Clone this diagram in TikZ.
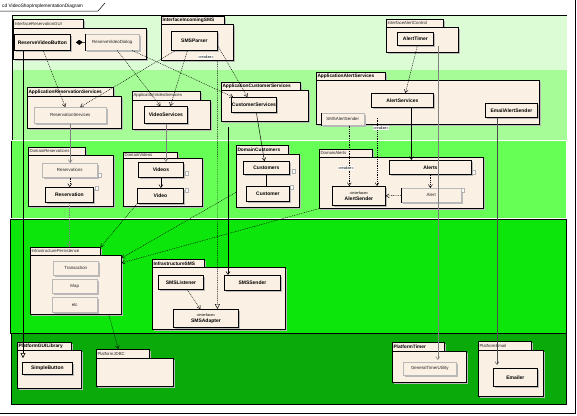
\documentclass[tikz,border=0pt]{standalone}
\usepackage{fontspec}
\setmainfont{Liberation Sans}
\usetikzlibrary{arrows.meta,shadows,calc}
\definecolor{bandA}{RGB}{220,252,214}
\definecolor{bandB}{RGB}{166,252,150}
\definecolor{bandC}{RGB}{102,255,85}
\definecolor{bandD}{RGB}{13,230,10}
\definecolor{bandE}{RGB}{10,170,10}
\definecolor{pkgfill}{RGB}{250,240,228}
\definecolor{shadowgray}{RGB}{185,185,185}
\newcommand{\tabbold}{\fontsize{4.8}{5.5}\selectfont\bfseries}
\newcommand{\tablight}{\fontsize{4.3}{5}\selectfont\color{black!85}}
\newcommand{\umlpkg}[9]{%
 \node[pkgpart, minimum width={(#4-#2)*1pt}, minimum height={(#5-#3)*1pt}, anchor=north west,
   label={[anchor=west, inner sep=1.3pt, font=#9]west:#8}] (#1tab) at (#2,#3) {};
 \node[pkgpart, minimum width={(#6-#2)*1pt}, minimum height={(#7-#5)*1pt}, anchor=north west] (#1) at (#2,#5) {};
}
\newcommand{\clsbox}[7]{\node[#1, minimum width={(#5-#3)*1pt}, minimum height={(#6-#4)*1pt}, anchor=north west] (#2) at (#3,#4) {#7};}
\newcommand{\mk}[5]{\node[draw=gray!60, fill=white, line width=0.3pt, inner sep=0pt, minimum width={(#4-#2)*1pt}, minimum height={(#5-#3)*1pt}, anchor=north west] (#1) at (#2,#3) {};}
\begin{document}
\begin{tikzpicture}[x=1pt,y=-1pt,
  shd/.style={drop shadow={shadow xshift=2pt,shadow yshift=-2pt,opacity=1,fill=shadowgray}},
  pkgpart/.style={shd, draw=black, line width=0.6pt, fill=pkgfill, inner sep=0pt},
  cls/.style={shd, draw=black, line width=0.8pt, fill=pkgfill, inner sep=0pt, align=center, font=\fontsize{5}{5.6}\selectfont\bfseries},
  tcls/.style={shd, draw=gray!55, line width=0.5pt, fill=pkgfill, inner sep=0pt, align=center, font=\fontsize{4.4}{5}\selectfont\color{black!85}},
  tip/.style={-{Straight Barb[length=3pt,width=4pt]}},
  dep/.style={tip, line width=0.45pt, dash pattern=on 0.9pt off 0.9pt},
  gdep/.style={dep, draw=gray},
  sol/.style={tip, line width=0.45pt},
  gsol/.style={sol, draw=gray},
  real/.style={line width=0.45pt, dash pattern=on 0.9pt off 0.9pt, -{Triangle[open,length=5pt,width=5pt]}},
  gen/.style={line width=0.6pt, -{Triangle[open,length=5pt,width=5pt]}},
  rlab/.style={fill=white, inner sep=0.6pt, font=\fontsize{3.8}{4.3}\selectfont}]
\useasboundingbox (0,0) rectangle (577,415);
% bands
\fill[bandA] (12,15) rectangle (567,70);
\fill[bandB] (12,70) rectangle (567,140);
\fill[bandC] (11,141) rectangle (566,218);
\fill[bandD] (10,219) rectangle (566,333);
\fill[bandE] (11,333) rectangle (566,404);
\draw[white, line width=0.8pt] (11,140.5) -- (566,140.5) (10,218.5) -- (566,218.5);
\draw[line width=0.6pt] (12,15) -- (567,15);
\draw[line width=0.6pt] (12,15) -- (12,140) (11,141) -- (11,218);
\draw[line width=0.6pt] (10,219) rectangle (566,333);
\draw[line width=0.6pt] (11,333) rectangle (566,404);
% frame
\node[anchor=west, inner sep=0pt, font=\fontsize{4.8}{5.5}\selectfont] (title) at (2,6) {cd VideoShopImplementationDiagram};
\draw[line width=0.5pt] (0,11) -- (98,11) -- (105,3);
\draw[line width=0.8pt] (575,0) -- (575,413) -- (0,413);
% packages
\umlpkg{ResGUI}{13}{19}{83}{28}{146}{59}{InterfaceReservationGUI}{\tablight}
\umlpkg{IncomingSMS}{161}{16}{224}{24}{233}{60}{InterfaceIncomingSMS}{\tabbold}
\umlpkg{AlertControl}{386}{19}{443}{27}{458}{52}{InterfaceAlertControl}{\tablight}
\umlpkg{AppRes}{27}{87}{113}{96}{121}{128}{ApplicationReservationServices}{\tabbold}
\umlpkg{AppVideo}{132}{91}{200}{100}{210}{129}{ApplicationVideoServices}{\tablight}
\umlpkg{AppCust}{221}{82}{300}{90}{308}{121}{ApplicationCustomerServices}{\tabbold}
\umlpkg{AppAlert}{316}{72}{385}{80}{539}{124}{ApplicationAlertServices}{\tabbold}
\umlpkg{DomRes}{28}{147}{85}{155}{113}{206}{DomainReservations}{\tablight}
\umlpkg{DomVideos}{123}{152}{177}{158}{202}{206}{DomainVideos}{\tablight}
\umlpkg{DomainCustomers}{236}{145}{288}{154}{299}{207}{DomainCustomers}{\tabbold}
\umlpkg{DomainAlerts}{319}{149}{372}{157}{483}{208}{DomainAlerts}{\tablight}
\umlpkg{InfraPersistence}{30}{247}{100}{255}{121}{314}{InfrastructurePersistence}{\tablight}
\umlpkg{InfraSMS}{152}{259}{204}{267}{285}{329}{InfrastructureSMS}{\tabbold}
\umlpkg{GUILib}{17}{342}{71}{350}{81}{388}{PlatformGUILibrary}{\tabbold}
\umlpkg{PlatformJDBC}{96}{349}{149}{358}{173}{386}{PlatformJDBC}{\tablight}
\umlpkg{PlatformTimer}{392}{342}{444}{351}{466}{382}{PlatformTimer}{\tabbold}
\umlpkg{PlatformEmail}{478}{341}{531}{350}{543}{396}{PlatformEmail}{\tablight}
% classes
\clsbox{cls}{RVB}{14}{34}{70}{50}{ReserveVideoButton}
\clsbox{tcls}{Dialog}{85}{34}{139}{50}{ReserveVideoDialog}
\clsbox{cls}{SMSParser}{171}{31}{217}{50}{SMSParser}
\clsbox{cls}{AlertTimer}{397}{32}{433}{45}{AlertTimer}
\clsbox{tcls}{ResServices}{34}{107}{106}{123}{ReservationServices}
\clsbox{cls}{VideoServices}{144}{106}{187}{123}{VideoServices}
\clsbox{cls}{CustomerServices}{231}{97}{276}{112}{CustomerServices}
\clsbox{cls}{AlertServices}{371}{93}{433}{107}{AlertServices}
\clsbox{cls}{EmailAlertSender}{485}{103}{537}{117}{EmailAlertSender}
\clsbox{tcls}{SMSAlertSender}{321}{113}{364}{125}{SMSAlertSender}
\clsbox{tcls}{Reservations}{42}{163}{97}{177}{Reservations}
\clsbox{cls}{Reservation}{45}{187}{93}{202}{Reservation}
\clsbox{cls}{Videos}{138}{162}{183}{177}{Videos}
\clsbox{cls}{Video}{137}{188}{183}{203}{Video}
\clsbox{cls}{Customers}{243}{161}{289}{174}{Customers}
\clsbox{cls}{Customer}{246}{186}{289}{201}{Customer}
\clsbox{cls}{AlertSender}{332}{186}{385}{205}{{\fontsize{3.8}{4.3}\selectfont\mdseries «interface»}\\AlertSender}
\clsbox{cls}{Alerts}{389}{160}{471}{174}{Alerts}
\clsbox{tcls}{Alert}{401}{188}{461}{202}{Alert}
\clsbox{tcls}{Transaction}{53}{261}{98}{275}{Transaction}
\clsbox{tcls}{Map}{52}{279}{97}{293}{Map}
\clsbox{tcls}{Etc}{52}{297}{97}{312}{etc}
\clsbox{cls}{SMSListener}{158}{275}{203}{289}{SMSListener}
\clsbox{cls}{SMSSender}{224}{275}{280}{290}{SMSSender}
\clsbox{cls}{SMSAdapter}{173}{309}{238}{327}{{\fontsize{3.8}{4.3}\selectfont\mdseries «interface»}\\SMSAdapter}
\clsbox{cls}{SimpleButton}{22}{362}{72}{374}{SimpleButton}
\clsbox{tcls}{GTU}{403}{362}{456}{375}{GeneralTimerUtility}
\clsbox{cls}{Emailer}{493}{368}{537}{386}{Emailer}
\draw[line width=0.8pt] (Dialog.north west) -- (Dialog.south west);
\draw[line width=0.8pt] (SMSAlertSender.north west) -- (SMSAlertSender.south west);
\draw[line width=0.8pt] (Alert.north west) -- (Alert.south west);
% markers
\mk{m1}{98}{173}{101}{177}
\mk{m2}{95}{186}{98}{190}
\mk{m3}{185}{171}{188}{175}
\mk{m4}{185}{188}{188}{192}
\mk{m5}{292}{169}{295}{173}
\mk{m6}{290}{185}{293}{189}
\mk{m7}{472}{170}{475}{174}
\mk{m8}{461}{188}{464}{192}
% connectors
\draw[gen, shorten >=4pt] ([xshift=9pt]RVB.south west) -- ([xshift=1pt]SimpleButton.north west);
\draw[{Diamond[length=7pt,width=5pt]}-, line width=0.5pt] ([xshift=5pt]RVB.east) -- (Dialog.west);
\draw[dep] ([xshift=1pt]RVB.south) -- ([xshift=-5pt]ResServices.north);
\draw[dep] ([xshift=5pt]Dialog.south) -- ([xshift=-5.5pt]VideoServices.north);
\draw[dep] ([xshift=20pt]Dialog.south) -- ([xshift=2pt]CustomerServices.north west);
\draw[dep] ([xshift=4pt]SMSParser.south west) -- ([xshift=10pt]ResServices.north);
\draw[dep] ([xshift=-7pt]SMSParser.south) -- ([xshift=4.5pt]VideoServices.north);
\draw[dep] ([yshift=5pt]SMSParser.south east) -- ([xshift=-6.5pt]CustomerServices.north);
\draw[real] ([xshift=-16pt]IncomingSMS.south east) -- ([xshift=11.5pt]SMSAdapter.north);
\draw[dep] ([xshift=2pt]AlertTimer.south) -- ([xshift=3pt]AlertServices.north);
\draw[gsol] (ResServices.south) -- (ResServices.south |- Reservations.north);
\draw[dep] (Reservations.south) -- (Reservations.south |- Reservation.north);
\draw[gdep] (Reservation.south) -- (Reservation.south |- InfraPersistencetab.north);
\draw[gsol] (VideoServices.south) -- (VideoServices.south |- Videos.north);
\draw[sol] (Videos.south) -- (Videos.south |- Video.north);
\draw[dep] (Video.south west) -- (InfraPersistencetab.north east);
\draw[dep] ([yshift=-11.5pt]DomainCustomers.west) -- ([yshift=-3pt]InfraPersistence.north east);
\draw[dep] (DomainAlerts.south west) -- ([yshift=-8pt]InfraPersistence.north east);
\draw[sol] ([xshift=2.5pt]CustomerServices.south) -- ([xshift=-2pt]Customers.north);
\draw[line width=0.45pt] (Customers.south) -- (Customers.south |- Customer.north);
\draw[sol] ([xshift=9pt]AlertServices.south) -- ([xshift=9pt]AlertServices.south |- Alerts.north);
\draw[dep] ([xshift=6.5pt]SMSAlertSender.south) -- ([xshift=6.5pt]SMSAlertSender.south |- AlertSender.north);
\draw[dep, shorten <=10pt] ([xshift=6pt]AlertServices.south west) -- ([xshift=6pt]AlertServices.south west |- AlertSender.north);
\draw[dep] (Alerts.south) -- (Alerts.south |- Alert.north);
\draw[dep] (Alert.west) -- (AlertSender.east);
\draw[dep] ([xshift=6.5pt]SMSListener.south) -- ([xshift=-5.5pt]SMSAdapter.north);
\coordinate (smsfree) at (228,127);
\draw[sol, line width=0.6pt] (smsfree) -- (smsfree |- SMSSender.north);
\draw[dep] ([xshift=33pt]InfraPersistence.south) -- ([xshift=-4.5pt]PlatformJDBCtab.north);
\draw[gsol, shorten >=2pt] ([xshift=4pt]AlertTimer.south east) -- ([xshift=4pt]AlertTimer.south east |- GTU.north);
\draw[sol, draw=black!70, shorten >=3pt] ([xshift=12pt]EmailAlertSender.south west) -- ([xshift=12pt]EmailAlertSender.south west |- Emailer.north);
% stereotype labels
\node[rlab] (rl1) at (206,57) {«realize»};
\node[rlab] (rl2) at (381,128) {«realize»};
\node[rlab] (rl3) at (346,168) {«realize»};
\end{tikzpicture}
\end{document}
